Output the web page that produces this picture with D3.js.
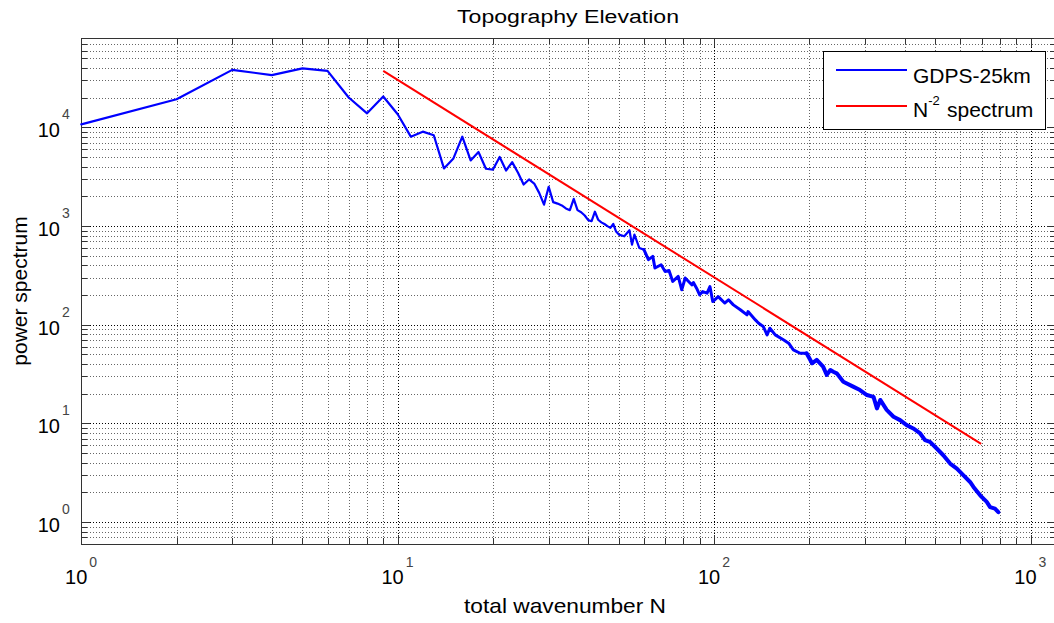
<!DOCTYPE html>
<html lang="en">
  <head>
    <meta charset="UTF-8" />
    <title>Topography Elevation</title>
    <script src="https://d3js.org/d3.v7.min.js"></script>
    <style>
      body {
        margin: 0;
        background: #fff;
        font-family: "Liberation Sans", Arial, sans-serif;
      }
      .grid line {
        stroke: #000;
        stroke-width: 1px;
        stroke-dasharray: 1, 2;
        shape-rendering: crispEdges;
      }
      .grid line.minor {
        stroke: #666;
      }
      .axis path,
      .axis line {
        fill: none;
        stroke: #333;
        shape-rendering: crispEdges;
      }
    </style>
  </head>
  <body>
    <script>
      // total wavenumber N and GDPS-25km power
      var waveN = [
        1, 2, 3, 4, 5, 6, 7, 8, 9, 10, 11, 12, 13, 14, 15, 16, 17, 18, 19, 20,
        21, 22, 23, 24, 25, 26, 27, 28, 29, 30, 31, 32, 33, 34, 35, 36, 37, 38,
        39, 40, 41, 42, 43, 44, 45, 46, 47, 48, 49, 50, 52, 54, 55, 56, 58, 60,
        62, 64, 65, 68, 70, 72, 74, 77, 79, 81, 82, 85, 86, 88, 90, 92, 95, 97,
        99, 103, 108, 111, 115, 121, 127, 128, 135, 138, 143, 147, 150, 156,
        166, 172, 178, 187, 196, 204, 211, 221, 227, 233, 238, 244, 256, 275,
        289, 304, 319, 327, 335, 351, 369, 387, 406, 426, 448, 464, 481, 505,
        530, 557, 585, 614, 644, 660, 693, 727, 745, 772, 791
      ];
      var powerGDPS = [
        10750, 19300, 38300, 33900, 39600, 37400, 20100, 13900, 20600, 13600,
        8060, 9060, 8320, 3840, 4850, 8060, 4630, 5630, 3810, 3740, 5020, 3660,
        4450, 3470, 2640, 2970, 2700, 2170, 1650, 2500, 1750, 1690, 1620, 1510,
        1450, 1890, 1450, 1380, 1280, 1150, 1120, 1400, 1160, 1090, 1050, 1000,
        960, 1050, 880, 820, 788, 907, 649, 820, 600, 577, 457, 493, 376, 406,
        347, 355, 275, 309, 226, 298, 286, 254, 268, 235, 201, 217, 209, 244,
        172, 193, 166, 179, 159, 142, 126, 136, 112, 104, 95.9, 78.9, 92.3,
        78.9, 70.2, 65.0, 55.6, 51.4, 51.4, 40.7, 44.0, 37.6, 31.0, 34.8, 33.4,
        32.2, 26.5, 23.6, 21.8, 19.4, 18.6, 14.2, 17.3, 13.7, 11.7, 10.8, 9.61,
        8.89, 7.91, 6.77, 6.5, 5.57, 4.76, 3.92, 3.49, 2.98, 2.55, 2.27, 1.87,
        1.6, 1.42, 1.37, 1.26
      ];
      // N^-2 reference line end points
      var refN = [9, 698];
      var refPower = [37400, 6.2];

      var xMajor = [1, 10, 100, 1000];
      var xMinor = [
        2, 3, 4, 5, 6, 7, 8, 9, 20, 30, 40, 50, 60, 70, 80, 90, 200, 300, 400,
        500, 600, 700, 800, 900
      ];
      var yMajor = [1, 10, 100, 1000, 10000];
      var yMinor = [
        0.6, 0.7, 0.8, 0.9, 2, 3, 4, 5, 6, 7, 8, 9, 20, 30, 40, 50, 60, 70, 80,
        90, 200, 300, 400, 500, 600, 700, 800, 900, 2000, 3000, 4000, 5000,
        6000, 7000, 8000, 9000, 20000, 30000, 40000, 50000, 60000, 70000, 80000
      ];
      var legendLabels = ["GDPS-25km", "spectrum"];

      var width = 1054,
        height = 623;
      var pLeft = 81.3,
        pRight = 1055.6,
        pTop = 38.3,
        pBottom = 544;

      var svg = d3
        .select("body")
        .append("svg")
        .attr("width", width)
        .attr("height", height);

      var x = d3.scaleLog().domain([1, 1200]).range([pLeft, pRight]);
      var y = d3.scaleLog().domain([0.6, 80000]).range([pBottom, pTop]);

      // grid
      var grid = svg.append("g").attr("class", "grid");
      function vGrid(vals, cls) {
        grid
          .selectAll("line.v" + cls)
          .data(vals)
          .enter()
          .append("line")
          .attr("class", "v" + cls + " " + cls)
          .attr("x1", function (d) {
            return Math.round(x(d)) + 0.5;
          })
          .attr("x2", function (d) {
            return Math.round(x(d)) + 0.5;
          })
          .attr("y1", pTop)
          .attr("y2", pBottom);
      }
      function hGrid(vals, cls) {
        grid
          .selectAll("line.h" + cls)
          .data(vals)
          .enter()
          .append("line")
          .attr("class", "h" + cls + " " + cls)
          .attr("y1", function (d) {
            return Math.round(y(d)) + 0.5;
          })
          .attr("y2", function (d) {
            return Math.round(y(d)) + 0.5;
          })
          .attr("x1", pLeft)
          .attr("x2", pRight);
      }
      vGrid(xMinor, "minor");
      hGrid(yMinor, "minor");
      vGrid(xMajor, "major");
      hGrid(yMajor, "major");

      // axes, ticks pointing inward on all four sides
      function addAxis(axis, tx, ty, vals, size) {
        svg
          .append("g")
          .attr("class", "axis")
          .attr("transform", "translate(" + tx + "," + ty + ")")
          .call(
            axis
              .tickValues(vals)
              .tickSizeInner(-size)
              .tickSizeOuter(0)
              .tickFormat("")
          );
      }
      addAxis(d3.axisBottom(x), 0, pBottom, xMajor, 9);
      addAxis(d3.axisBottom(x), 0, pBottom, xMinor, 6);
      addAxis(d3.axisTop(x), 0, pTop, xMajor, 9);
      addAxis(d3.axisTop(x), 0, pTop, xMinor, 6);
      addAxis(d3.axisLeft(y), pLeft, 0, yMajor, 9);
      addAxis(d3.axisLeft(y), pLeft, 0, yMinor, 6);
      addAxis(d3.axisRight(y), pRight, 0, yMajor, 9);
      addAxis(d3.axisRight(y), pRight, 0, yMinor, 6);

      // tick labels 10^k
      var xLab = svg
        .selectAll(".xlab")
        .data(xMajor)
        .enter()
        .append("g")
        .attr("class", "xlab")
        .attr("transform", function (d) {
          return "translate(" + x(d) + ",0)";
        });
      xLab
        .append("text")
        .attr("x", 6)
        .attr("y", 584)
        .attr("text-anchor", "end")
        .style("font-size", "20px")
        .text("10");
      xLab
        .append("text")
        .attr("x", 8)
        .attr("y", 567)
        .style("font-size", "14px")
        .style("fill", "#444")
        .text(function (d) {
          return Math.round(Math.log10(d));
        });

      var yLab = svg
        .selectAll(".ylab")
        .data(yMajor)
        .enter()
        .append("g")
        .attr("class", "ylab")
        .attr("transform", function (d) {
          return "translate(0," + y(d) + ")";
        });
      yLab
        .append("text")
        .attr("x", 60)
        .attr("y", 10)
        .attr("text-anchor", "end")
        .style("font-size", "20px")
        .text("10");
      yLab
        .append("text")
        .attr("x", 62)
        .attr("y", -8)
        .style("font-size", "14px")
        .style("fill", "#444")
        .text(function (d) {
          return Math.round(Math.log10(d));
        });

      // series
      var line = d3
        .line()
        .x(function (d) {
          return x(d[0]);
        })
        .y(function (d) {
          return y(d[1]);
        });

      svg
        .append("path")
        .datum(
          refN.map(function (n, i) {
            return [n, refPower[i]];
          })
        )
        .attr("d", line)
        .style("fill", "none")
        .style("stroke", "#ff0000")
        .style("stroke-width", 2);

      var gdps = waveN.map(function (n, i) {
        return [n, powerGDPS[i]];
      });
      // the dense high-wavenumber tail looks heavier in the figure
      var parts = [
        { pts: gdps.filter(function (d) { return d[0] <= 60; }), w: 2.2 },
        { pts: gdps.filter(function (d) { return d[0] >= 60 && d[0] <= 200; }), w: 3 },
        { pts: gdps.filter(function (d) { return d[0] >= 196; }), w: 4 }
      ];
      svg
        .selectAll(".gdps")
        .data(parts)
        .enter()
        .append("path")
        .attr("class", "gdps")
        .attr("d", function (d) {
          return line(d.pts);
        })
        .style("fill", "none")
        .style("stroke", "#0000ff")
        .style("stroke-width", function (d) {
          return d.w;
        })
        .style("stroke-linejoin", "round")
        .style("stroke-linecap", "round");

      // titles
      svg
        .append("text")
        .attr("x", 568)
        .attr("y", 23)
        .attr("text-anchor", "middle")
        .attr("textLength", 222)
        .attr("lengthAdjust", "spacingAndGlyphs")
        .style("font-size", "18px")
        .text("Topography Elevation");

      svg
        .append("text")
        .attr("x", 565)
        .attr("y", 613)
        .attr("text-anchor", "middle")
        .attr("textLength", 202)
        .attr("lengthAdjust", "spacingAndGlyphs")
        .style("font-size", "21px")
        .text("total wavenumber N");

      svg
        .append("text")
        .attr("transform", "translate(27,291) rotate(-90)")
        .attr("text-anchor", "middle")
        .style("font-size", "21px")
        .text("power spectrum");

      // legend
      var legend = svg.append("g").attr("class", "legend");
      legend
        .append("rect")
        .attr("x", 823.5)
        .attr("y", 51.5)
        .attr("width", 222)
        .attr("height", 78)
        .style("fill", "#fff")
        .style("stroke", "#000");
      legend
        .append("line")
        .attr("x1", 836)
        .attr("x2", 907)
        .attr("y1", 70)
        .attr("y2", 70)
        .style("stroke", "#0000ff")
        .style("stroke-width", 2);
      legend
        .append("text")
        .attr("x", 913)
        .attr("y", 83)
        .style("font-size", "21px")
        .text(legendLabels[0]);
      legend
        .append("line")
        .attr("x1", 836)
        .attr("x2", 907)
        .attr("y1", 106)
        .attr("y2", 106)
        .style("stroke", "#ff0000")
        .style("stroke-width", 2);
      var t2 = legend
        .append("text")
        .attr("x", 913)
        .attr("y", 117)
        .style("font-size", "21px");
      t2.append("tspan").text("N");
      t2.append("tspan")
        .attr("dy", -12)
        .style("font-size", "13px")
        .text("-2");
      t2.append("tspan")
        .attr("dy", 12)
        .attr("x", 947)
        .text(legendLabels[1]);
    </script>
  </body>
</html>
